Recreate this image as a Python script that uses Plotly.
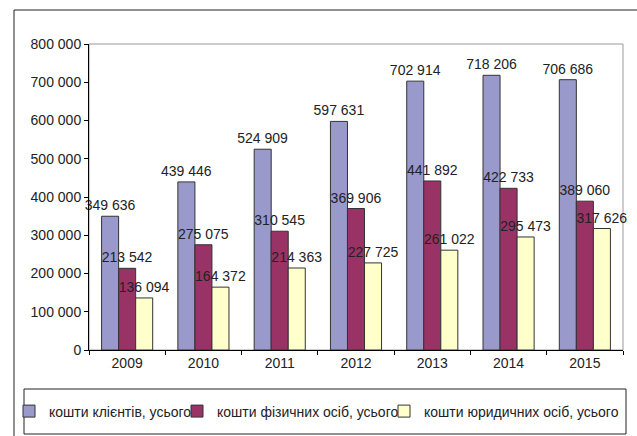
import plotly.graph_objects as go

years = ["2009", "2010", "2011", "2012", "2013", "2014", "2015"]
clients_total = [349636, 439446, 524909, 597631, 702914, 718206, 706686]
individuals_total = [213542, 275075, 310545, 369906, 441892, 422733, 389060]
legal_entities_total = [136094, 164372, 214363, 227725, 261022, 295473, 317626]

series_names = [
    "кошти клієнтів, усього",
    "кошти фізичних осіб, усього",
    "кошти юридичних осіб, усього",
]
series_colors = ["#9999CC", "#993366", "#FFFFCC"]
y_ticks = [0, 100000, 200000, 300000, 400000, 500000, 600000, 700000, 800000]


def fmt(v):
    return f"{v:,}".replace(",", " ")


FONT = "Liberation Sans, Arial, sans-serif"
WIDTH, HEIGHT = 637, 436

# plot-area geometry in pixels, used to place frames and legends
L, T, R, B = 89, 44, 623, 350
W, H = R - L, B - T


def px(x):
    return (x - L) / W


def py(y):
    return (B - y) / H


legend_ids = ["legend", "legend2", "legend3"]
legend_left = [9, 177, 384]   # left edge of each legend entry, px

fig = go.Figure()
for name, vals, col, lid in zip(series_names,
                                [clients_total, individuals_total, legal_entities_total],
                                series_colors, legend_ids):
    fig.add_trace(go.Bar(
        name=name, x=years, y=vals, legend=lid,
        marker=dict(color=col, line=dict(color="#333333", width=1)),
        text=[fmt(v) for v in vals],
        textposition="outside",
        constraintext="none",
        cliponaxis=False,
        textfont=dict(family=FONT, size=14, color="#222222"),
    ))

shapes = [
    # thin grey frame around the plot area
    dict(type="rect", xref="paper", yref="paper", x0=0, x1=1, y0=0, y1=1,
         line=dict(color="#999999", width=1), layer="below"),
    # outer chart border
    dict(type="rect", xref="paper", yref="paper",
         x0=px(14), x1=px(660), y0=py(460), y1=py(10),
         line=dict(color="#222222", width=1)),
    # legend frame
    dict(type="rect", xref="paper", yref="paper",
         x0=px(24), x1=px(626), y0=py(434), y1=py(389),
         line=dict(color="#222222", width=1)),
]

legend_style = dict(
    orientation="h", xref="container", yref="container", xanchor="left",
    y=1 - 411.5 / HEIGHT, yanchor="middle",
    font=dict(family=FONT, size=14, color="#222222"),
    bgcolor="rgba(0,0,0,0)", borderwidth=0,
)

fig.update_layout(
    width=WIDTH, height=HEIGHT,
    margin=dict(l=L, r=WIDTH - R, t=T, b=HEIGHT - B, autoexpand=False),
    paper_bgcolor="white", plot_bgcolor="white",
    barmode="group", bargap=0.33, bargroupgap=0,
    font=dict(family=FONT, size=14, color="#222222"),
    showlegend=True,
    shapes=shapes,
    xaxis=dict(
        showline=True, linecolor="#000000", linewidth=1,
        ticks="outside", tickson="boundaries", ticklen=4, tickcolor="#000000",
        showgrid=False, tickfont=dict(family=FONT, size=14, color="#222222"),
    ),
    yaxis=dict(
        range=[0, 800000], tickvals=y_ticks,
        ticktext=[fmt(v) for v in y_ticks],
        showline=True, linecolor="#000000", linewidth=1,
        ticks="outside", ticklen=4, tickcolor="#000000",
        showgrid=False, zeroline=False,
        tickfont=dict(family=FONT, size=14, color="#222222"),
    ),
)
for lid, left in zip(legend_ids, legend_left):
    fig.update_layout({lid: dict(legend_style, x=left / WIDTH)})

fig.write_html("out.html")
